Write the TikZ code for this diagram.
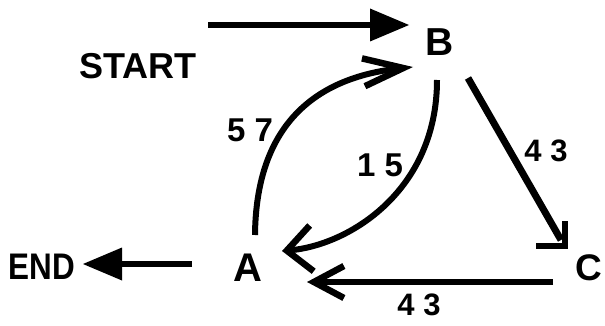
\documentclass[tikz,border=0pt]{standalone}
\usepackage{fontspec}
\setmainfont{Liberation Sans}
\usetikzlibrary{arrows.meta}
\begin{document}
\begin{tikzpicture}[x=1pt,y=-1pt,
  lbl/.style={inner sep=0pt, font=\bfseries\fontsize{#1}{#1}\selectfont},
  conn/.style={line width=6pt},
  solidtip/.style={-{Triangle[length=39pt,width=33pt,line width=0pt]}},
  barb/.style 2 args={-{Straight Barb[length=#1,width=#2,line width=6.5pt]}}]
\useasboundingbox (0,0) rectangle (605,326);
% labels
\node[lbl=36] (start) at (138,66) {START};
\node[lbl=39] (B) at (440,42) {B};
\node[lbl=40] (A) at (248,268) {A};
\node[lbl=37] (C) at (589,268) {C};
\node[lbl=37] (endn) at (42,267) {\scalebox{0.85}[1]{END}};
\node[lbl=33] (l57) at (250,130) {5 7};
\node[lbl=33] (l15) at (380,165) {1 5};
\node[lbl=31] (l43a) at (546,151) {4 3};
\node[lbl=31] (l43b) at (419,305) {4 3};
% connector end points
\coordinate (s0) at (208,25);
\coordinate (s1) at (409,25);
\coordinate (e0) at (192,264);
\coordinate (e1) at (83,264);
\coordinate (a57s) at (255,235);
\coordinate (a57e) at (413,67);
\coordinate (a15s) at (437,80);
\coordinate (a15e) at (282,251);
\coordinate (bc0) at (468,78);
\coordinate (bc1) at (561,240);
\coordinate (bcv) at (565,221);
\coordinate (bck) at (565,246);
\coordinate (bch) at (536,246);
\coordinate (ca0) at (553,282);
\coordinate (ca1) at (307,282);
% connectors
\draw[conn, solidtip] (s0) -- (s1);
\draw[conn, solidtip] (e0) -- (e1);
\draw[conn, barb={40pt}{28pt}] (a57s) .. controls (256,130) and (310,78) .. (a57e);
\draw[conn, barb={25pt}{46pt}] (a15s) .. controls (437,190) and (350,245) .. (a15e);
\draw[line width=7pt] (bc0) -- (bc1);
\draw[line width=6.5pt, miter limit=10] (bcv) -- (bck) -- (bch);
\draw[conn, barb={30pt}{32pt}] (ca0) -- (ca1);
\end{tikzpicture}
\end{document}
